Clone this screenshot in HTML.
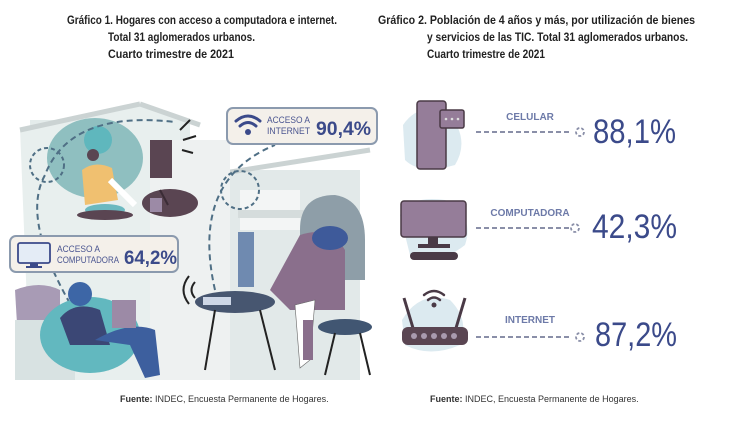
<!DOCTYPE html>
<html><head><meta charset="utf-8"><style>
html,body{margin:0;padding:0;background:#fff;width:738px;height:444px;overflow:hidden}
svg{display:block}
.t{font-family:"Liberation Sans",sans-serif;font-weight:bold;fill:#222;font-size:11.5px}
.f{font-family:"Liberation Sans",sans-serif;font-size:9px;fill:#333}
.lab{font-family:"Liberation Sans",sans-serif;font-weight:bold;font-size:10px;fill:#6d7aa8}
.big{font-family:"Liberation Sans",sans-serif;font-size:34px;fill:#3b4a8a}
.sm{font-family:"Liberation Sans",sans-serif;font-size:9.5px;fill:#4a5590}
.mid{font-family:"Liberation Sans",sans-serif;font-weight:bold;font-size:19px;fill:#3b4a8a}
</style></head><body>
<svg width="738" height="444" viewBox="0 0 738 444" xmlns="http://www.w3.org/2000/svg">
<text class="t" x="67" y="24" textLength="270" lengthAdjust="spacingAndGlyphs">Gráfico 1. Hogares con acceso a computadora e internet.</text>
<text class="t" x="108" y="41" textLength="147" lengthAdjust="spacingAndGlyphs">Total 31 aglomerados urbanos.</text>
<text class="t" x="108" y="58" textLength="126" lengthAdjust="spacingAndGlyphs">Cuarto trimestre de 2021</text>
<text class="t" x="378" y="24" textLength="317" lengthAdjust="spacingAndGlyphs">Gráfico 2. Población de 4 años y más, por utilización de bienes</text>
<text class="t" x="427" y="41" textLength="261" lengthAdjust="spacingAndGlyphs">y servicios de las TIC. Total 31 aglomerados urbanos.</text>
<text class="t" x="427" y="58" textLength="118" lengthAdjust="spacingAndGlyphs">Cuarto trimestre de 2021</text>

<g>
<rect x="30" y="120" width="160" height="260" fill="#e4eceb"/>
<polygon points="20,128 140,105 180,120 180,380 30,380" fill="#e8efee"/>
<line x1="20" y1="130" x2="140" y2="104" stroke="#cbd3d3" stroke-width="5"/>
<line x1="140" y1="104" x2="200" y2="125" stroke="#cbd3d3" stroke-width="5"/>
<rect x="200" y="170" width="160" height="210" fill="#e2e9e9"/>
<line x1="205" y1="176" x2="370" y2="150" stroke="#cbd3d3" stroke-width="5"/>
<rect x="150" y="140" width="80" height="240" fill="#eef1f1"/>
<rect x="240" y="190" width="60" height="40" fill="#f3f5f5"/>
<rect x="238" y="210" width="70" height="8" fill="#d5dcdc"/>
<path d="M300 230 Q300 195 335 195 Q365 200 365 240 L365 280 L300 280Z" fill="#8e9ea8"/>
<path d="M15 290 Q40 280 60 290 L60 370 L20 375Z" fill="#a89bb5"/>
<rect x="15" y="320" width="60" height="60" fill="#d8e2e2"/>
<ellipse cx="95" cy="158" rx="48" ry="40" fill="#8fbfc0"/>
<ellipse cx="170" cy="203" rx="28" ry="14" fill="#5a4552"/>
<rect x="150" y="140" width="22" height="38" fill="#5a4552"/>
<line x1="160" y1="190" x2="168" y2="205" stroke="#3b2c36" stroke-width="2"/>
<rect x="150" y="198" width="12" height="14" fill="#9c8aa6"/>
<circle cx="98" cy="140" r="14" fill="#5fb7bd"/>
<circle cx="93" cy="155" r="6" fill="#5a4552"/>
<path d="M82 170 Q95 160 112 168 L118 200 L85 205Z" fill="#f0c070"/>
<ellipse cx="105" cy="210" rx="20" ry="6" fill="#6bb9c0"/>
<path d="M110 180 L135 205" stroke="#fff" stroke-width="6"/>
<ellipse cx="105" cy="215" rx="28" ry="5" fill="#5a4552"/>
<path d="M75 312 Q20 220 45 175 Q70 110 175 122" fill="none" stroke="#4f6f85" stroke-width="2" stroke-dasharray="6,4"/>
<circle cx="47" cy="165" r="17" fill="none" stroke="#4f6f85" stroke-width="2" stroke-dasharray="4,3"/>
<path d="M215 290 Q190 180 275 145" fill="none" stroke="#4f6f85" stroke-width="2" stroke-dasharray="6,4"/>
<circle cx="240" cy="190" r="19" fill="none" stroke="#4f6f85" stroke-width="2" stroke-dasharray="4,3"/>
<path d="M180 130 L190 120 M183 140 L196 136 M182 150 L193 153" stroke="#222" stroke-width="2"/>
<ellipse cx="235" cy="302" rx="40" ry="11" fill="#475670"/>
<line x1="215" y1="310" x2="205" y2="370" stroke="#222" stroke-width="2"/>
<line x1="260" y1="310" x2="275" y2="370" stroke="#222" stroke-width="2"/>
<rect x="238" y="232" width="16" height="55" fill="#6f8ab0"/>
<rect x="203" y="297" width="28" height="8" fill="#cdd6e6"/>
<path d="M195 282 Q188 290 195 298" fill="none" stroke="#222" stroke-width="2"/>
<path d="M189 276 Q178 290 189 304" fill="none" stroke="#222" stroke-width="2"/>
<path d="M300 235 Q330 225 345 250 L345 310 L290 310 L270 290Z" fill="#8a6f8c"/>
<ellipse cx="330" cy="238" rx="18" ry="12" fill="#3e5a9a"/>
<ellipse cx="345" cy="327" rx="27" ry="8" fill="#415672"/>
<line x1="335" y1="333" x2="325" y2="375" stroke="#222" stroke-width="2"/>
<line x1="360" y1="333" x2="370" y2="375" stroke="#222" stroke-width="2"/>
<path d="M295 305 L315 300 L310 360 L300 368Z" fill="#fff" stroke="#666" stroke-width="0.6"/>
<rect x="303" y="320" width="10" height="40" fill="#8a6f8c"/>
<ellipse cx="90" cy="335" rx="50" ry="38" fill="#62b8bf"/>
<path d="M60 318 Q75 300 100 310 L110 345 L70 345Z" fill="#3b4775"/>
<circle cx="80" cy="294" r="12" fill="#3d66a6"/>
<path d="M95 340 Q130 320 155 330 L160 375 L145 378 L130 345 Z" fill="#3d5f9e"/>
<rect x="112" y="300" width="24" height="28" fill="#9c8aa6"/>
</g>
<rect x="227" y="108" width="150" height="36" rx="6" fill="#f4f0ea" stroke="#8b9aae" stroke-width="2"/>
<g fill="none" stroke="#3b4a8a" stroke-width="3" stroke-linecap="round">
<path d="M236 121 Q248 111 260 121"/><path d="M240 126 Q248 119 256 126"/>
</g>
<circle cx="248" cy="132" r="3" fill="#3b4a8a"/>
<text class="sm" x="267" y="123" textLength="43" lengthAdjust="spacingAndGlyphs">ACCESO A</text>
<text class="sm" x="267" y="134" textLength="43" lengthAdjust="spacingAndGlyphs">INTERNET</text>
<text class="mid" x="316" y="135" textLength="55" lengthAdjust="spacingAndGlyphs">90,4%</text>
<rect x="10" y="236" width="168" height="36" rx="6" fill="#f4f0ea" stroke="#8b9aae" stroke-width="2"/>
<rect x="18" y="243" width="32" height="20" rx="2" fill="#e4ecf6" stroke="#3b4a8a" stroke-width="1.8"/>
<rect x="30" y="263" width="8" height="3" fill="#3b4a8a"/><rect x="26" y="266" width="16" height="2" fill="#3b4a8a"/>
<text class="sm" x="57" y="252" textLength="43" lengthAdjust="spacingAndGlyphs">ACCESO A</text>
<text class="sm" x="57" y="263" textLength="62" lengthAdjust="spacingAndGlyphs">COMPUTADORA</text>
<text class="mid" x="124" y="264" textLength="53" lengthAdjust="spacingAndGlyphs">64,2%</text>

<path d="M403 125 Q420 100 450 115 Q470 140 455 165 Q420 175 405 160Z" fill="#dceaf0"/>
<rect x="417" y="101" width="29" height="68" rx="3" fill="#957d99" stroke="#4a3a46" stroke-width="1.5"/>
<rect x="440" y="110" width="24" height="18" rx="2" fill="#957d99" stroke="#4a3a46" stroke-width="1.5"/>
<circle cx="446" cy="119" r="1.3" fill="#ddd"/><circle cx="452" cy="119" r="1.3" fill="#ddd"/><circle cx="458" cy="119" r="1.3" fill="#ddd"/>
<text class="lab" x="530" y="120" text-anchor="middle">CELULAR</text>
<line x1="476" y1="132" x2="570" y2="132" stroke="#8a8fa8" stroke-width="2" stroke-dasharray="5,3"/>
<circle cx="580" cy="132" r="4" fill="none" stroke="#8a8fa8" stroke-width="1.8" stroke-dasharray="3,2"/>
<text class="big" x="593" y="143" textLength="83" lengthAdjust="spacingAndGlyphs">88,1%</text>

<path d="M400 215 Q410 195 445 200 Q475 215 465 245 Q440 265 410 255Z" fill="#dceaf0"/>
<rect x="401" y="201" width="65" height="36" rx="3" fill="#957d99" stroke="#4a3a46" stroke-width="1.5"/>
<rect x="428" y="237" width="10" height="8" fill="#4a3a46"/>
<rect x="418" y="244" width="32" height="4" fill="#4a3a46"/>
<rect x="410" y="252" width="48" height="8" rx="4" fill="#4a3a46"/>
<text class="lab" x="530" y="216" text-anchor="middle">COMPUTADORA</text>
<line x1="476" y1="228" x2="570" y2="228" stroke="#8a8fa8" stroke-width="2" stroke-dasharray="5,3"/>
<circle cx="575" cy="228" r="4" fill="none" stroke="#8a8fa8" stroke-width="1.8" stroke-dasharray="3,2"/>
<text class="big" x="592" y="238" textLength="85" lengthAdjust="spacingAndGlyphs">42,3%</text>

<path d="M402 320 Q420 290 450 300 Q470 320 460 345 Q430 358 405 345Z" fill="#dceaf0"/>
<g fill="none" stroke="#4a3a46" stroke-width="2.5" stroke-linecap="round">
<path d="M424 295 Q434 287 444 295"/><path d="M428 300 Q434 295 440 300"/>
</g>
<circle cx="434" cy="305" r="2.5" fill="#4a3a46"/>
<line x1="404" y1="298" x2="413" y2="328" stroke="#4a3a46" stroke-width="3"/>
<line x1="465" y1="298" x2="456" y2="328" stroke="#4a3a46" stroke-width="3"/>
<rect x="402" y="327" width="66" height="18" rx="6" fill="#5a4552"/>
<g fill="#a99aae"><circle cx="414" cy="336" r="3"/><circle cx="424" cy="336" r="3"/><circle cx="434" cy="336" r="3"/><circle cx="444" cy="336" r="3"/><circle cx="454" cy="336" r="3"/></g>
<text class="lab" x="530" y="323" text-anchor="middle">INTERNET</text>
<line x1="476" y1="337" x2="570" y2="337" stroke="#8a8fa8" stroke-width="2" stroke-dasharray="5,3"/>
<circle cx="580" cy="337" r="4" fill="none" stroke="#8a8fa8" stroke-width="1.8" stroke-dasharray="3,2"/>
<text class="big" x="595" y="346" textLength="82" lengthAdjust="spacingAndGlyphs">87,2%</text>

<text class="f" x="120" y="402"><tspan font-weight="bold">Fuente:</tspan> INDEC, Encuesta Permanente de Hogares.</text>
<text class="f" x="430" y="402"><tspan font-weight="bold">Fuente:</tspan> INDEC, Encuesta Permanente de Hogares.</text>
</svg>
</body></html>
